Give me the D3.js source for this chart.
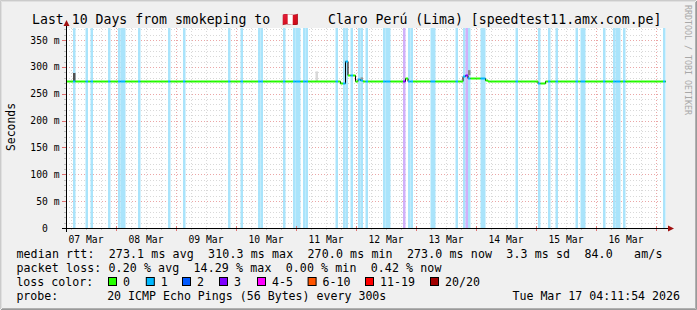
<!DOCTYPE html>
<html><head><meta charset="utf-8">
<script src="https://cdn.jsdelivr.net/npm/d3@7"></script>
<style>
html,body{margin:0;padding:0;background:#f0f0f0;}
svg{display:block;}
text{font-family:"DejaVu Sans Mono",monospace;white-space:pre;}
</style></head><body>
<svg id="chart" width="697" height="310"></svg>
<script>
// ---------------- data ----------------
const titleParts = ["Last 10 Days from smokeping to", "\u{1F1F5}\u{1F1EA}", " Claro Perú (Lima) [speedtest11.amx.com.pe]"];
const timeStart = "2026-03-07T04:11:54Z";
const timeEnd   = "2026-03-17T04:11:54Z";
const hourOrigin = "2026-03-07T05:00:00Z";   // hour index 0 (hourly RRA rows)
const yMaxMs = 372.4;
const yTickMs = [0, 50, 100, 150, 200, 250, 300, 350];
const yTickLabels = ["0  ", "50 m", "100 m", "150 m", "200 m", "250 m", "300 m", "350 m"];
const dayLabels = ["07 Mar","08 Mar","09 Mar","10 Mar","11 Mar","12 Mar","13 Mar","14 Mar","15 Mar","16 Mar"];

// hours (index from hourOrigin) with packet loss, and the loss bucket
const lossHours = [2,7,9,16,20,21,22,28,40,46,64,69,76,77,86,90,91,92,94,95,107,110,111,113,116,117,119,126,127,128,134,136,137,145,146,155,158,159,160,165,166,179,188,192,195,203,205,206,214,218,219,220,222,238];
const lossBucket = [1,1,1,1,1,1,1,1,1,1,1,1,1,1,1,1,1,1,1,1,1,1,1,1,1,1,1,1,1,1,3,1,1,1,1,1,1,3,1,1,1,1,1,1,1,1,1,1,1,1,1,1,1,1];

// median RTT (ms): value holds from the given hour index onward
const medianFromHour = [-1, 109, 111, 112, 115, 116, 117, 118, 135, 136, 158, 159, 160, 167, 168, 188, 191];
const medianMs       = [273.0, 270.0, 310.3, 284.0, 273.0, 278.0, 276.0, 273.0, 280.0, 273.0, 282.5, 284.3, 280.0, 276.0, 273.0, 270.0, 273.0];

// smoke (spread of the other pings) for a few hours
const smokeHours  = [2, 99, 117, 160];
const smokeLowMs  = [273.5, 273.5, 275.5, 284.5];
const smokeHighMs = [288.6, 291.6, 280.5, 294.0];
const smokeDepth  = [0.75, 0.25, 0.5, 0.55];

// legend
const legendRows = [
  "median rtt:  273.1 ms avg  310.3 ms max  270.0 ms min  273.0 ms now  3.3 ms sd  84.0   am/s",
  "packet loss: 0.20 % avg  14.29 % max  0.00 % min  0.42 % now",
  "loss color:",
  "probe:       20 ICMP Echo Pings (56 Bytes) every 300s"
];
const legendRowWidth = [646, 425, null, null];
const legendDate = "Tue Mar 17 04:11:54 2026";
const lossLegendLabels = ["0","1","2","3","4-5","6-10","11-19","20/20"];
const lossLegendX = [108, 145.8, 182, 219, 257, 307.6, 365, 430];

// ---------------- drawing ----------------
const lossColors = {0:"#26ff00",1:"#00b8ff",2:"#0059ff",3:"#7e00ff",5:"#ff00ff",10:"#ff5500",19:"#ff0000",20:"#a10000"};
const lossLegendColors = ["#26ff00","#00b8ff","#0059ff","#7e00ff","#ff00ff","#ff5500","#ff0000","#a10000"];
const bandColors = {1:"#aae4fb",2:"#a6c4ff",3:"#d0b0fa"};

const L = 66, R = 666, T = 28, B = 228;
const svg = d3.select("#chart");
const t0 = d3.isoParse(timeStart), t1 = d3.isoParse(timeEnd), h0 = d3.isoParse(hourOrigin);
const hourT = k => new Date(+h0 + k * 3600e3);
const x = d3.scaleUtc().domain([t0, t1]).range([L, R]);
const y = d3.scaleLinear().domain([0, yMaxMs]).range([B, T]);

// background + 3D border
svg.append("rect").attr("width",697).attr("height",310).attr("fill","#f0f0f0");
svg.append("path").attr("d","M0.5,309 V0.5 H696").attr("stroke","#cbcbcb").attr("fill","none");
svg.append("path").attr("d","M1.5,308 V1.5 H695").attr("stroke","#e0e0e0").attr("fill","none");
svg.append("path").attr("d","M1,309.5 H696.5 V1").attr("stroke","#999").attr("fill","none");
svg.append("path").attr("d","M2,308.5 H695.5 V2").attr("stroke","#b0b0b0").attr("fill","none");

svg.append("rect").attr("x",L).attr("y",T).attr("width",R-L).attr("height",B-T).attr("fill","#fff");

const defs = svg.append("defs");
defs.append("clipPath").attr("id","clip").append("rect").attr("x",L).attr("y",T-5).attr("width",R-L).attr("height",B-T+5);

const px = v => Math.round(v) + 0.5;

// grid
const gGrid = svg.append("g");
const minorY = d3.range(10, yMaxMs, 10).filter(v => v % 50 !== 0);
const majorY = yTickMs.filter(v => v > 0);
gGrid.selectAll(".gy").data(minorY).join("line")
  .attr("x1",L).attr("x2",R).attr("y1",d=>px(y(d))).attr("y2",d=>px(y(d)))
  .attr("stroke","#d8d8d8").attr("stroke-dasharray","1,2");
gGrid.selectAll(".my").data(majorY).join("line")
  .attr("x1",L).attr("x2",R).attr("y1",d=>px(y(d))).attr("y2",d=>px(y(d)))
  .attr("stroke","#eba6a6").attr("stroke-dasharray","1,2");
const minorX = d3.utcHour.every(6).range(t0, t1).filter(d => d.getUTCHours() !== 0);
const majorX = d3.utcDay.range(t0, t1);
gGrid.selectAll(".gx").data(minorX).join("line")
  .attr("x1",d=>px(x(d))).attr("x2",d=>px(x(d))).attr("y1",T).attr("y2",B)
  .attr("stroke","#d8d8d8").attr("stroke-dasharray","1,2");
gGrid.selectAll(".mx").data(majorX).join("line")
  .attr("x1",d=>px(x(d))).attr("x2",d=>px(x(d))).attr("y1",T).attr("y2",B)
  .attr("stroke","#eba6a6").attr("stroke-dasharray","1,2");

const gData = svg.append("g").attr("clip-path","url(#clip)");
// loss bands
gData.selectAll(".band").data(lossHours.map((k,i)=>({k, b:lossBucket[i]}))).join("rect")
  .attr("x",d=>x(hourT(d.k))).attr("width",d=>x(hourT(d.k+1))-x(hourT(d.k)))
  .attr("y",T).attr("height",B-T).attr("fill",d=>bandColors[d.b]);

// smoke
gData.selectAll(".smoke").data(smokeHours.map((k,i)=>({k, lo:smokeLowMs[i], hi:smokeHighMs[i], d:smokeDepth[i]}))).join("rect")
  .attr("x",d=>x(hourT(d.k))).attr("width",d=>x(hourT(d.k+1))-x(hourT(d.k)))
  .attr("y",d=>y(d.hi)).attr("height",d=>y(d.lo)-y(d.hi))
  .attr("fill",d=>d3.interpolateGreys(d.d));

// hourly median series
const hours = d3.range(-1, 241);
const medAt = k => { let v = medianMs[0]; medianFromHour.forEach((h,i)=>{ if (h <= k) v = medianMs[i]; }); return v; };
const lossAt = k => { const i = lossHours.indexOf(k); return i < 0 ? 0 : lossBucket[i]; };
const series = hours.map(k => ({k, v: medAt(k), l: lossAt(k)}));

gData.append("path").datum(series)
  .attr("d", d3.line().x(d=>x(hourT(d.k))).y(d=>Math.round(y(d.v))+0.5).curve(d3.curveStepAfter))
  .attr("fill","none").attr("stroke","#000").attr("stroke-width",1);
gData.selectAll(".seg").data(series.slice(0,-1)).join("line")
  .attr("x1",d=>x(hourT(d.k))).attr("x2",d=>x(hourT(d.k+1)))
  .attr("y1",d=>Math.round(y(d.v))+0.5).attr("y2",d=>Math.round(y(d.v))+0.5)
  .attr("stroke",d=>lossColors[d.l]).attr("stroke-width",2);

// axes
const yAxis = d3.axisLeft(y).tickValues(yTickMs).tickFormat((d,i)=>yTickLabels[i]).tickSize(0).tickPadding(6.5);
const gy = svg.append("g").attr("transform",`translate(${L},0)`).call(yAxis);
gy.select(".domain").remove();
gy.selectAll("text").attr("font-family","DejaVu Sans Mono").attr("font-size","9.7px").attr("fill","#000");

const noons = majorX.map(d => new Date(+d - 12*3600e3)).concat([new Date(+majorX[majorX.length-1] + 12*3600e3)]).filter(d=>d>=t0 && d<=t1);
const xAxis = d3.axisBottom(x).tickValues(noons).tickFormat((d,i)=>dayLabels[i]).tickSize(0).tickPadding(8.5);
const gx = svg.append("g").attr("transform",`translate(0,${B})`).call(xAxis);
gx.select(".domain").remove();
gx.selectAll("text").attr("font-family","DejaVu Sans Mono").attr("font-size","9.7px").attr("fill","#000");

// tick marks on axes
svg.selectAll(".ty").data(minorY).join("line").attr("x1",L-2).attr("x2",L).attr("y1",d=>px(y(d))).attr("y2",d=>px(y(d))).attr("stroke","#c0c0c0");
svg.selectAll(".tym").data(yTickMs).join("line").attr("x1",L-4).attr("x2",L).attr("y1",d=>px(y(d))).attr("y2",d=>px(y(d))).attr("stroke","#e07070");
svg.selectAll(".tx").data(minorX).join("line").attr("x1",d=>px(x(d))).attr("x2",d=>px(x(d))).attr("y1",B).attr("y2",B+2).attr("stroke","#c0c0c0");
svg.selectAll(".txm").data(majorX).join("line").attr("x1",d=>px(x(d))).attr("x2",d=>px(x(d))).attr("y1",B-2).attr("y2",B+3).attr("stroke","#e07070");

svg.append("line").attr("x1",L+0.5).attr("x2",L+0.5).attr("y1",B+4).attr("y2",T-4).attr("stroke","#000");
svg.append("line").attr("x1",L-4).attr("x2",R+4).attr("y1",B+0.5).attr("y2",B+0.5).attr("stroke","#000");
svg.append("path").attr("d",`M${L-2.5},${T-2} L${L+3.5},${T-2} L${L+0.5},${T-8} Z`).attr("fill","#a01010");
svg.append("path").attr("d",`M${R+2},${B-2.5} L${R+2},${B+3.5} L${R+8},${B+0.5} Z`).attr("fill","#a01010");

// title
const title = svg.append("text").attr("y",23.5).attr("font-size","13.2px").attr("fill","#000");
title.append("tspan").attr("x",32).text(titleParts[0]);
title.append("tspan").attr("x",282).text(titleParts[1]);
title.append("tspan").attr("x",320).text(titleParts[2]);

// y label
svg.append("text").attr("transform","translate(14.5,127) rotate(-90)").attr("text-anchor","middle")
  .attr("font-size","11.4px").text("Seconds");

// watermark
svg.append("text").attr("transform","translate(685,5) rotate(90)").attr("font-size","8.3px").attr("fill","#a8a8a8")
  .text("RRDTOOL / TOBI OETIKER");

// legend
const rowY = [258, 272, 286, 300];
legendRows.forEach((row, r) => {
  const t = svg.append("text").attr("x",16.4).attr("y",rowY[r]).attr("font-size","11.6px").attr("fill","#000").text(row);
  if (legendRowWidth[r]) t.attr("textLength", legendRowWidth[r]).attr("lengthAdjust","spacing");
});
svg.append("text").attr("x",680).attr("y",rowY[3]).attr("text-anchor","end").attr("font-size","11.6px").text(legendDate);
lossLegendLabels.forEach((lab, i) => {
  svg.append("rect").attr("x",lossLegendX[i]+0.5).attr("y",rowY[2]-8.5).attr("width",8).attr("height",8)
    .attr("fill",lossLegendColors[i]).attr("stroke","#000");
  svg.append("text").attr("x",lossLegendX[i]+15).attr("y",rowY[2]).attr("font-size","11.6px").text(lab);
});
</script></body></html>
